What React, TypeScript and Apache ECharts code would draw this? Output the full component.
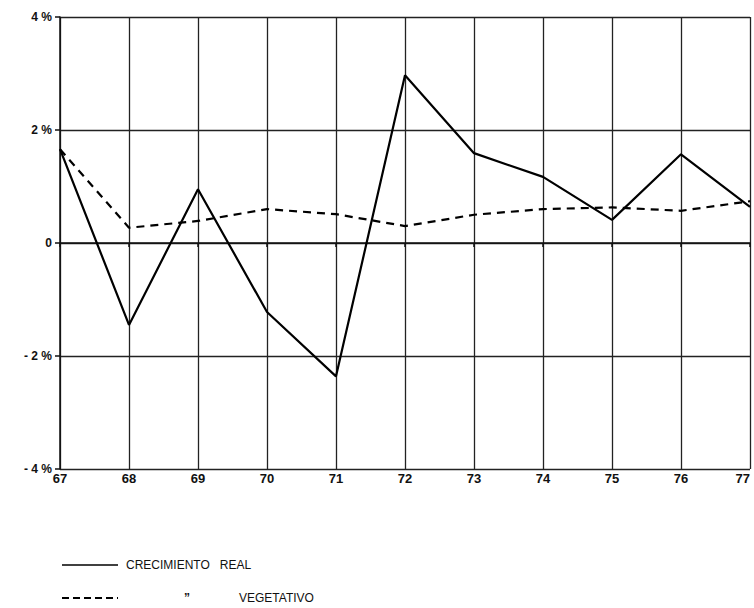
import React, { useEffect, useRef } from "react";
import * as echarts from "echarts";

const years = ["67", "68", "69", "70", "71", "72", "73", "74", "75", "76", "77"];
const crecimientoReal = [1.66, -1.45, 0.95, -1.22, -2.36, 2.97, 1.59, 1.17, 0.41, 1.57, 0.64];
const vegetativo = [1.66, 0.27, 0.39, 0.6, 0.51, 0.3, 0.5, 0.6, 0.63, 0.57, 0.74];
const yTickLabels: Record<string, string> = { "-4": "- 4 %", "-2": "- 2 %", "0": "0", "2": "2 %", "4": "4 %" };

export default function App() {
  const ref = useRef<HTMLDivElement>(null);
  useEffect(() => {
    if (!ref.current) return;
    const chart = echarts.init(ref.current, undefined, { renderer: "svg" });
    const font = "Liberation Sans";
    chart.setOption({
      animation: false,
      backgroundColor: "#fff",
      grid: { left: 60, right: 4, top: 17, bottom: 139, outerBoundsMode: "none", containLabel: false },
      xAxis: {
        type: "category",
        data: years,
        boundaryGap: false,
        axisLine: { show: true, lineStyle: { color: "#111", width: 1.5 } },
        axisTick: { show: true, length: 4, inside: false, alignWithLabel: true, lineStyle: { color: "#111", width: 1.5 } },
        axisLabel: { color: "#111", fontSize: 13, fontFamily: font, margin: 3, fontWeight: "bold", alignMaxLabel: "right" },
        splitLine: { show: true, interval: 0, lineStyle: { color: "#222", width: 1.3 } },
      },
      yAxis: {
        type: "value",
        min: -4,
        max: 4,
        interval: 2,
        axisLine: { show: true, lineStyle: { color: "#111", width: 1.5 } },
        axisTick: { show: true, length: 5, lineStyle: { color: "#111", width: 1.5 } },
        axisLabel: {
          color: "#111",
          fontSize: 12,
          fontFamily: font,
          fontWeight: "bold",
          margin: 8,
          formatter: (v: number) => yTickLabels[String(v)] ?? String(v),
        },
        splitLine: { show: true, lineStyle: { color: "#222", width: 1.3 } },
      },
      series: [
        {
          name: "CRECIMIENTO REAL",
          type: "line",
          data: crecimientoReal,
          symbol: "none",
          lineStyle: { color: "#000", width: 2.2, type: "solid" },
        },
        {
          name: "VEGETATIVO",
          type: "line",
          data: vegetativo,
          symbol: "none",
          lineStyle: { color: "#000", width: 2.2, type: [8, 6] },
        },
      ],
      graphic: [
        { type: "line", shape: { x1: 62, y1: 565, x2: 118, y2: 565 }, style: { stroke: "#000", lineWidth: 1.5 } },
        { type: "text", x: 126, y: 565, style: { text: "CRECIMIENTO   REAL", fill: "#111", font: `12px ${font}`, verticalAlign: "middle" } },
        { type: "line", shape: { x1: 62, y1: 598, x2: 118, y2: 598 }, style: { stroke: "#000", lineWidth: 2, lineDash: [7, 4] } },
        { type: "text", x: 184, y: 598, style: { text: "\u201D", fill: "#111", font: `bold 12px ${font}`, verticalAlign: "middle" } },
        { type: "text", x: 239, y: 598, style: { text: "VEGETATIVO", fill: "#111", font: `12px ${font}`, verticalAlign: "middle" } },
      ],
    });
    return () => chart.dispose();
  }, []);
  return <div ref={ref} style={{ width: 754, height: 608, position: "fixed", left: 0, top: 0 }} />;
}
